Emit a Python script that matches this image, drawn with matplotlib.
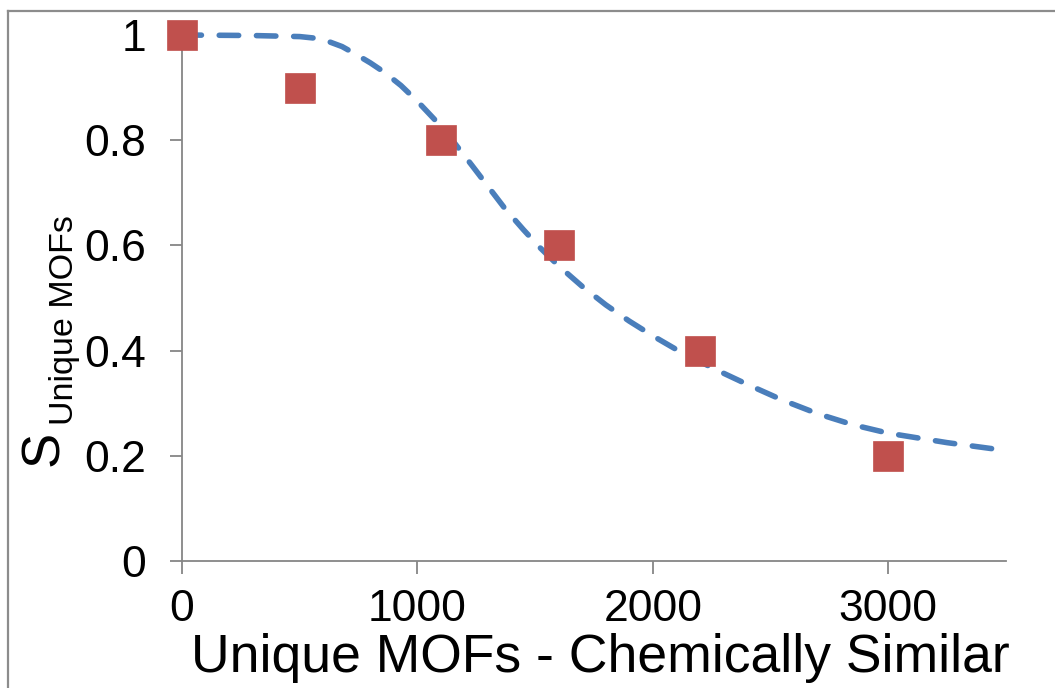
import matplotlib
matplotlib.use("Agg")
from matplotlib import pyplot as plt
from matplotlib.lines import Line2D

plt.rcParams['font.family'] = ['Liberation Sans', 'DejaVu Sans']

# measured points (red squares)
mof_x = [0, 500, 1100, 1600, 2200, 3000]
mof_s = [1.0, 0.9, 0.8, 0.6, 0.4, 0.2]

# fitted curve
fit_x = [0, 300, 500, 565, 620, 680, 740, 800, 860, 930, 1000, 1080, 1150,
         1230, 1300, 1370, 1450, 1520, 1600, 1700, 1800, 1900, 2000, 2100,
         2200, 2300, 2400, 2550, 2700, 2850, 3000, 3250, 3500]
fit_s = [1.0, 0.999, 0.997, 0.994, 0.988, 0.978, 0.963, 0.947, 0.929, 0.904,
         0.874, 0.836, 0.799, 0.753, 0.712, 0.671, 0.63, 0.596, 0.561, 0.522,
         0.487, 0.456, 0.428, 0.402, 0.379, 0.357, 0.336, 0.306, 0.28, 0.259,
         0.243, 0.225, 0.21]

xticks = [0, 1000, 2000, 3000]
yticks = [0, 0.2, 0.4, 0.6, 0.8, 1]
ytick_labels = ["0", "0.2", "0.4", "0.6", "0.8", "1"]

axis_grey = "#868686"

fig = plt.figure(figsize=(10.55, 6.88), dpi=100)
ax = fig.add_axes([182 / 1055, 1 - 561 / 688, (1006 - 182) / 1055, (561 - 35) / 688])

ax.plot(fit_x, fit_s, color="#4A7EBB", lw=4.0, dashes=[3.5, 3.2],
        dash_capstyle="round", zorder=3, clip_on=False)
ax.plot(mof_x, mof_s, "s", ms=22, color="#C0504D", mec="#C0504D", mew=0.5,
        zorder=4, clip_on=False)

ax.set_xlim(0, 3500)
ax.set_ylim(0, 1)
ax.tick_params(axis="both", direction="out", length=9, width=1.3,
               color=axis_grey)
ax.tick_params(axis="x", pad=11)
ax.tick_params(axis="y", pad=17)
ax.set_xticks(xticks)
ax.set_xticklabels([str(t) for t in xticks], fontsize=32)
ax.set_yticks(yticks)
ax.set_yticklabels(ytick_labels, fontsize=32)

for side in ["top", "right"]:
    ax.spines[side].set_visible(False)
for side in ["left", "bottom"]:
    ax.spines[side].set_color(axis_grey)
    ax.spines[side].set_linewidth(1.3)

# axis titles
fig.text(600 / 1055, 1 - 658 / 688, "Unique MOFs - Chemically Similar",
         fontsize=38.5, ha="center", va="center")
fig.text(44 / 1055, 1 - 448 / 688, "S", fontsize=38, rotation=90,
         ha="center", va="center")
fig.text(64 / 1055, 1 - 320 / 688, "Unique MOFs", fontsize=24.5, rotation=90,
         ha="center", va="center")

# frame round the picture (only left and top show)
fig.add_artist(Line2D([8 / 1055, 8 / 1055], [0, 1 - 11 / 688],
                      transform=fig.transFigure, color="#8C8C8C", lw=1.6))
fig.add_artist(Line2D([8 / 1055, 1], [1 - 11 / 688, 1 - 11 / 688],
                      transform=fig.transFigure, color="#8C8C8C", lw=1.6))

fig.savefig("out.png", dpi=100)
